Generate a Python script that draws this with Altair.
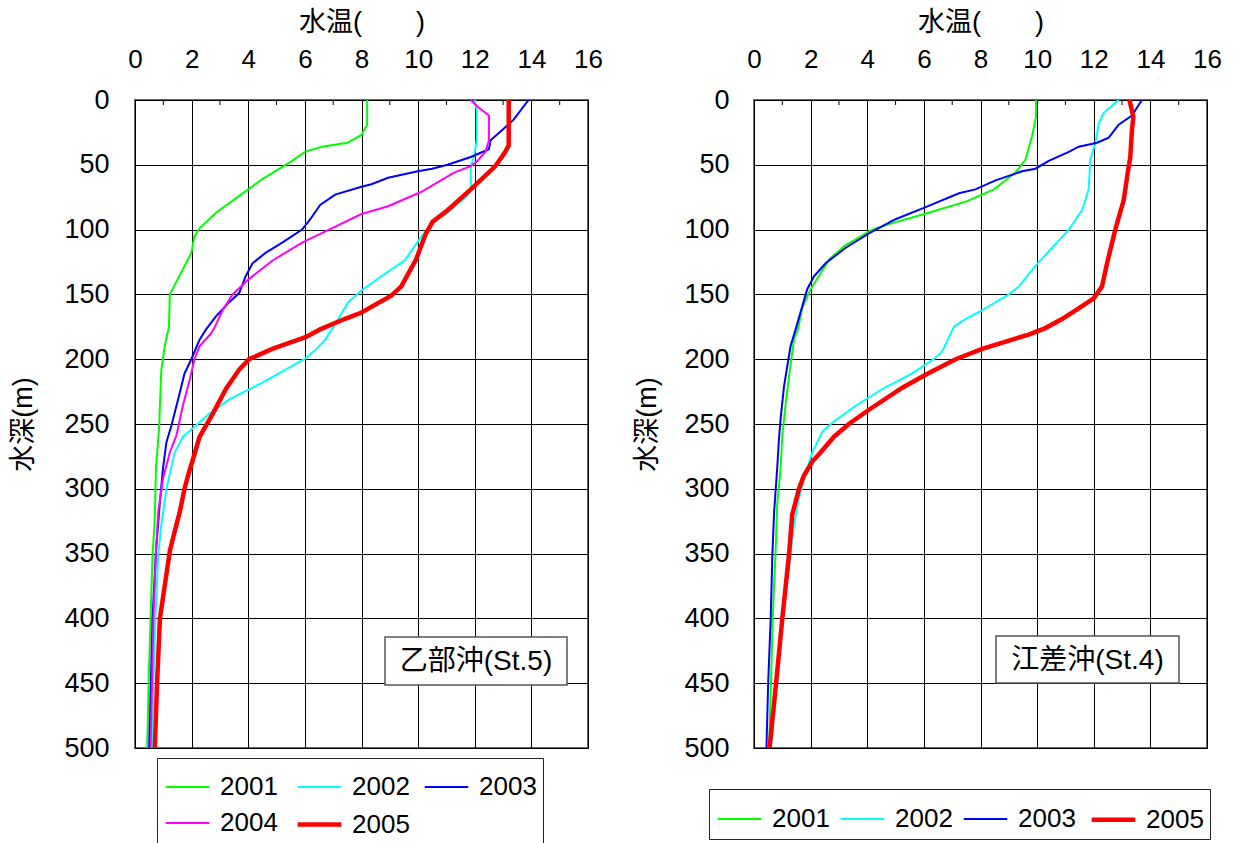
import altair as alt
import pandas as pd

FONT = "Liberation Sans, Noto Sans CJK JP"

# ---------------- 乙部沖 (St.5) ----------------
s5_2001_depth = [0, 19, 27, 33, 36, 40, 47, 61, 69, 87, 99, 105, 118, 150, 175, 190, 208, 236, 254, 284, 323, 351, 400, 450, 500]
s5_2001_temp = [8.2, 8.2, 8.0, 7.5, 6.6, 6.0, 5.55, 4.5, 4.0, 2.86, 2.28, 2.1, 1.99, 1.23, 1.2, 1.05, 0.93, 0.88, 0.85, 0.74, 0.70, 0.62, 0.55, 0.48, 0.43]

s5_2002_depth = [0, 8, 31, 44, 51, 69, 74, 87, 96, 106, 113, 124, 136, 147, 156, 169, 177, 185, 193, 200, 218, 231, 242, 251, 260, 272, 300, 328, 351, 400, 450, 500]
s5_2002_temp = [12.0, 12.07, 12.07, 11.97, 11.86, 11.86, 11.74, 11.04, 10.46, 10.1, 9.87, 9.52, 8.7, 8.0, 7.53, 7.18, 6.95, 6.72, 6.37, 5.98, 4.5, 3.33, 2.63, 2.16, 1.69, 1.4, 1.11, 0.93, 0.82, 0.72, 0.65, 0.6]

s5_2003_depth = [0, 15, 22, 31, 38, 44, 50, 53, 55, 60, 65, 67, 73, 81, 92, 100, 110, 118, 126, 136, 149, 156, 167, 177, 185, 200, 211, 226, 251, 264, 284, 310, 348, 400, 450, 500]
s5_2003_temp = [13.9, 13.38, 13.03, 12.56, 12.5, 11.86, 11.04, 10.5, 9.99, 8.94, 8.35, 8.0, 7.07, 6.54, 6.19, 5.9, 5.2, 4.61, 4.15, 3.91, 3.68, 3.33, 2.86, 2.51, 2.28, 1.99, 1.75, 1.58, 1.29, 1.11, 0.99, 0.88, 0.74, 0.62, 0.56, 0.5]

s5_2004_depth = [0, 5, 12, 31, 40, 47, 51, 56, 71, 82, 88, 99, 110, 124, 138, 150, 162, 176, 180, 190, 200, 216, 236, 259, 272, 292, 318, 348, 400, 450, 500]
s5_2004_temp = [11.86, 12.09, 12.5, 12.5, 12.38, 12.09, 11.86, 11.27, 10.1, 8.94, 8.0, 6.95, 5.9, 4.85, 4.03, 3.45, 3.1, 2.8, 2.69, 2.28, 2.1, 1.93, 1.69, 1.46, 1.23, 0.99, 0.82, 0.74, 0.65, 0.6, 0.55]

s5_2005_depth = [0, 35, 40, 51, 69, 85, 94, 103, 113, 123, 144, 151, 164, 169, 177, 183, 192, 200, 208, 223, 242, 260, 277, 290, 300, 318, 333, 348, 400, 450, 500]
s5_2005_temp = [13.2, 13.2, 13.08, 12.73, 11.86, 11.04, 10.51, 10.28, 10.1, 9.93, 9.4, 9.05, 8.0, 7.4, 6.54, 6.02, 4.85, 4.03, 3.68, 3.21, 2.75, 2.28, 2.05, 1.87, 1.75, 1.58, 1.4, 1.23, 0.88, 0.78, 0.7]

# ---------------- 江差沖 (St.4) ----------------
s4_2001_depth = [0, 13, 28, 46, 56, 69, 78, 88, 95, 100, 112, 123, 136, 146, 160, 177, 185, 213, 234, 259, 284, 312, 350, 400, 450, 500]
s4_2001_temp = [9.96, 9.96, 9.82, 9.59, 9.24, 8.47, 7.53, 6.02, 4.88, 4.18, 3.24, 2.65, 2.29, 2.0, 1.71, 1.55, 1.41, 1.24, 1.12, 1.0, 0.94, 0.82, 0.76, 0.66, 0.6, 0.53]

s4_2002_depth = [0, 10, 18, 33, 46, 69, 85, 100, 128, 144, 150, 163, 169, 175, 194, 200, 211, 223, 236, 249, 256, 272, 284, 307, 328, 350, 400, 450, 500]
s4_2002_temp = [12.88, 12.35, 12.18, 12.06, 11.88, 11.82, 11.59, 11.12, 9.94, 9.35, 9.0, 8.0, 7.47, 7.06, 6.65, 6.35, 5.59, 4.53, 3.59, 2.76, 2.41, 2.06, 1.88, 1.59, 1.41, 1.29, 1.0, 0.8, 0.6]

s4_2003_depth = [0, 12, 19, 29, 33, 36, 40, 47, 53, 55, 62, 69, 72, 83, 92, 103, 114, 126, 136, 146, 177, 190, 221, 246, 262, 284, 318, 350, 400, 450, 500]
s4_2003_temp = [13.7, 13.35, 12.88, 12.53, 12.12, 11.47, 11.12, 10.41, 9.94, 9.47, 8.53, 7.82, 7.24, 6.02, 5.0, 4.06, 3.24, 2.53, 2.12, 1.88, 1.47, 1.29, 1.06, 0.94, 0.88, 0.82, 0.71, 0.65, 0.59, 0.5, 0.44]

s4_2005_depth = [0, 13, 23, 44, 56, 77, 100, 126, 144, 153, 159, 169, 176, 181, 192, 200, 212, 222, 239, 250, 260, 272, 279, 290, 300, 320, 350, 400, 450, 500]
s4_2005_temp = [13.26, 13.4, 13.35, 13.29, 13.2, 13.06, 12.76, 12.47, 12.29, 12.0, 11.59, 10.88, 10.29, 9.7, 8.06, 7.12, 6.06, 5.24, 4.06, 3.35, 2.82, 2.35, 2.06, 1.76, 1.59, 1.35, 1.24, 1.0, 0.78, 0.55]

year_colors = {"2001": "#00FF00", "2002": "#00FFFF", "2003": "#0000FF", "2004": "#FF00FF", "2005": "#FF0000"}
year_widths = {"2001": 2, "2002": 2, "2003": 2, "2004": 2, "2005": 4.5}
x_ticks = [0, 2, 4, 6, 8, 10, 12, 14, 16]
minor_ticks = [1, 3, 5, 7, 9, 11, 13, 15]
y_ticks = [0, 50, 100, 150, 200, 250, 300, 350, 400, 450, 500]
X_TITLE = "水温(\u3000\u3000)"
Y_TITLE = "水深(m)"


def long_frame(series):
    rows = []
    for year, (d, t) in series.items():
        for dd, tt in zip(d, t):
            rows.append({"year": year, "depth": dd, "temp": tt})
    return pd.DataFrame(rows)


df5 = long_frame({
    "2001": (s5_2001_depth, s5_2001_temp),
    "2002": (s5_2002_depth, s5_2002_temp),
    "2003": (s5_2003_depth, s5_2003_temp),
    "2004": (s5_2004_depth, s5_2004_temp),
    "2005": (s5_2005_depth, s5_2005_temp),
})
df4 = long_frame({
    "2001": (s4_2001_depth, s4_2001_temp),
    "2002": (s4_2002_depth, s4_2002_temp),
    "2003": (s4_2003_depth, s4_2003_temp),
    "2005": (s4_2005_depth, s4_2005_temp),
})


def x_enc(field):
    return alt.X(field, scale=alt.Scale(domain=[0, 16], nice=False, zero=False),
                 axis=alt.Axis(orient="top", values=x_ticks, title=X_TITLE, labelFontSize=26,
                               labelPadding=28, titlePadding=10, format="d", labelFlush=False))


def panel(df, label, legend_x, legend_y, columns, col_pad, box, y_label_pad, y_title_pad, label_expr):
    years = sorted(df["year"].unique())
    legend = alt.Legend(
        title=None, orient="none", legendX=legend_x, legendY=legend_y, direction="horizontal",
        columns=columns, columnPadding=col_pad, rowPadding=-5, symbolType="stroke", symbolSize=1900,
        labelFontSize=26, labelFont=FONT, labelColor="black", labelOffset=8, labelExpr=label_expr,
        strokeColor="#222", fillColor="white", padding=6,
    )
    y = alt.Y("depth:Q", scale=alt.Scale(domain=[0, 500], reverse=True, nice=False),
              axis=alt.Axis(values=y_ticks, title=Y_TITLE, labelPadding=y_label_pad, labelFontSize=27,
                            titlePadding=y_title_pad, format="d", labelFlush=False))
    lines = alt.Chart(df).mark_line(clip=True).encode(
        x=x_enc("temp:Q"), y=y,
        color=alt.Color("year:N", scale=alt.Scale(type="ordinal", domain=years,
                                                  range=[year_colors[v] for v in years]), legend=legend),
        strokeWidth=alt.StrokeWidth("year:N", scale=alt.Scale(type="ordinal", domain=years,
                                                              range=[year_widths[v] for v in years]), legend=legend),
        order=alt.Order("depth:Q"),
    )
    ticks = alt.Chart(pd.DataFrame({"v": minor_ticks})).mark_rule(color="black", strokeWidth=1).encode(
        x=x_enc("v:Q"), y=alt.value(0), y2=alt.value(5))
    lab = pd.DataFrame({"label": [label]})
    bx0, bx1, by0, by1 = box
    rect = alt.Chart(lab).mark_rect(fill="white", stroke="#555", strokeWidth=1.5).encode(
        x=alt.value(bx0), x2=alt.value(bx1), y=alt.value(by0), y2=alt.value(by1))
    txt = alt.Chart(lab).mark_text(fontSize=28, font=FONT, color="black", baseline="middle", align="center").encode(
        x=alt.value((bx0 + bx1) / 2), y=alt.value((by0 + by1) / 2 + 1), text="label:N")
    return alt.layer(lines, ticks, rect, txt).properties(width=453, height=648)


left = panel(df5, "乙部沖(St.5)", 22, 658, 3, 10, (250, 432, 537, 585), 26, 26,
             "datum.label == '2003' ? '2003\u2002' : datum.label")
right = panel(df4, "江差沖(St.4)", -45, 689, 4, 6, (242, 425, 536, 583), 25, 22,
              "datum.label == '2005' ? '2005\u2003\u2004' : datum.label")

chart = alt.hconcat(left, right, spacing=28).resolve_scale(
    color="independent", strokeWidth="independent", x="independent", y="independent"
).resolve_legend(color="independent", strokeWidth="independent").properties(
    padding={"left": 8, "top": 7, "right": 5, "bottom": 0}, background="white"
).configure_axis(
    labelFontSize=26, titleFontSize=27, labelFont=FONT, titleFont=FONT,
    labelColor="black", titleColor="black", titleFontWeight="normal",
    domain=False, ticks=False, grid=True, gridColor="black", gridWidth=1, gridOpacity=1,
).configure_view(stroke="#666", strokeWidth=2)

chart.save("out.html", embed_options={"renderer": "svg", "actions": False})
